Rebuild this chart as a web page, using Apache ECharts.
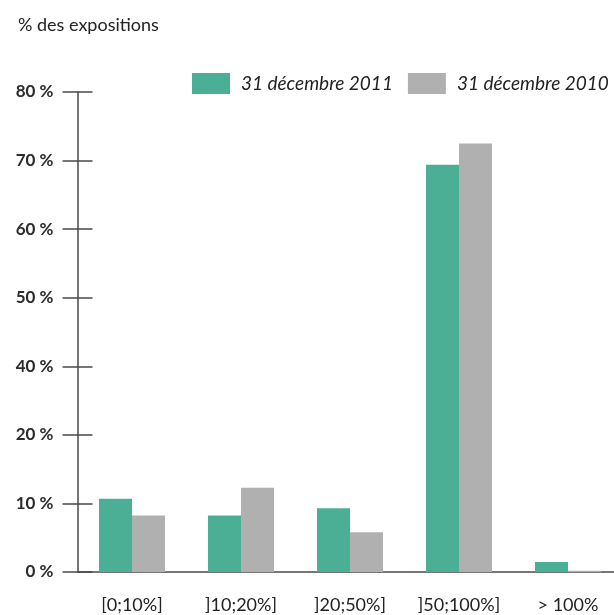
<!DOCTYPE html>
<html>
<head>
<meta charset="utf-8">
<script src="https://cdn.jsdelivr.net/npm/echarts@6/dist/echarts.min.js"></script>
<style>
html,body{margin:0;padding:0;background:#fff;}
#chart{width:614px;height:615px;}
</style>
</head>
<body>
<div id="chart"></div>
<script>
// ---- data ----
var categories = ['[0;10%]', ']10;20%]', ']20;50%]', ']50;100%]', '> 100%'];
var series2011 = [10.7, 8.25, 9.3, 69.4, 1.45];
var series2010 = [8.25, 12.3, 5.8, 72.5, 0.2];
var seriesNames = ['31 décembre 2011', '31 décembre 2010'];
// printed tick labels (the source axis skips 30 %)
var tickValues = [0, 10, 20, 40, 50, 60, 70, 80];
var tickLabels = ['0 %', '10 %', '20 %', '40 %', '50 %', '60 %', '70 %', '80 %'];
var titleText = '% des expositions';

// map a percentage onto the evenly spaced printed ticks
function toAxis(v) {
  for (var i = 0; i < tickValues.length - 1; i++) {
    if (v <= tickValues[i + 1]) {
      return i + (v - tickValues[i]) / (tickValues[i + 1] - tickValues[i]);
    }
  }
  return tickValues.length - 1;
}

var font = 'Lato, "Noto Sans", sans-serif';
var axisColor = '#4a4a4a';

var chart = echarts.init(document.getElementById('chart'), null, {renderer: 'canvas'});
chart.setOption({
  animation: false,
  backgroundColor: '#ffffff',
  title: {
    text: titleText,
    left: 13, top: 11,
    textStyle: {fontFamily: font, fontSize: 18, fontWeight: 'normal', color: '#222'}
  },
  legend: {
    data: seriesNames,
    left: 187, top: 68,
    itemWidth: 38, itemHeight: 21, itemGap: 15,
    icon: 'rect',
    textStyle: {fontFamily: font, fontSize: 19, fontStyle: 'italic', color: '#222', padding: [0, 0, 0, 6]}
  },
  grid: {left: 77.5, width: 545, top: 92, bottom: 43, containLabel: false, outerBoundsMode: 'none'},
  xAxis: {
    type: 'category',
    data: categories,
    axisLine: {show: true, lineStyle: {color: axisColor, width: 1.5}},
    axisTick: {show: false},
    axisLabel: {fontFamily: font, fontSize: 18, color: '#222', margin: 24, interval: 0}
  },
  yAxis: [{
    type: 'value', min: 0, max: tickValues.length - 1, interval: 1,
    axisLine: {show: true, lineStyle: {color: axisColor, width: 1.5}},
    axisTick: {show: true, length: 15, lineStyle: {color: axisColor, width: 1.5}},
    splitLine: {show: false},
    axisLabel: {
      fontFamily: font, fontSize: 17, fontWeight: 'bold', color: '#2b2b2b', margin: 24,
      formatter: function (v) { return tickLabels[Math.round(v)]; }
    }
  }, {
    type: 'value', min: 0, max: tickValues.length - 1, interval: 1, position: 'left',
    axisLine: {show: false},
    axisTick: {show: true, inside: true, length: 15, lineStyle: {color: axisColor, width: 1.5}},
    splitLine: {show: false},
    axisLabel: {show: false}
  }],
  series: [{
    name: seriesNames[0], type: 'bar', yAxisIndex: 0,
    barWidth: 33, barGap: '0%',
    itemStyle: {color: '#4baf96'},
    data: series2011.map(toAxis)
  }, {
    name: seriesNames[1], type: 'bar', yAxisIndex: 0,
    barWidth: 33, barGap: '0%',
    itemStyle: {color: '#b0b0b0'},
    data: series2010.map(toAxis)
  }]
});
</script>
</body>
</html>
